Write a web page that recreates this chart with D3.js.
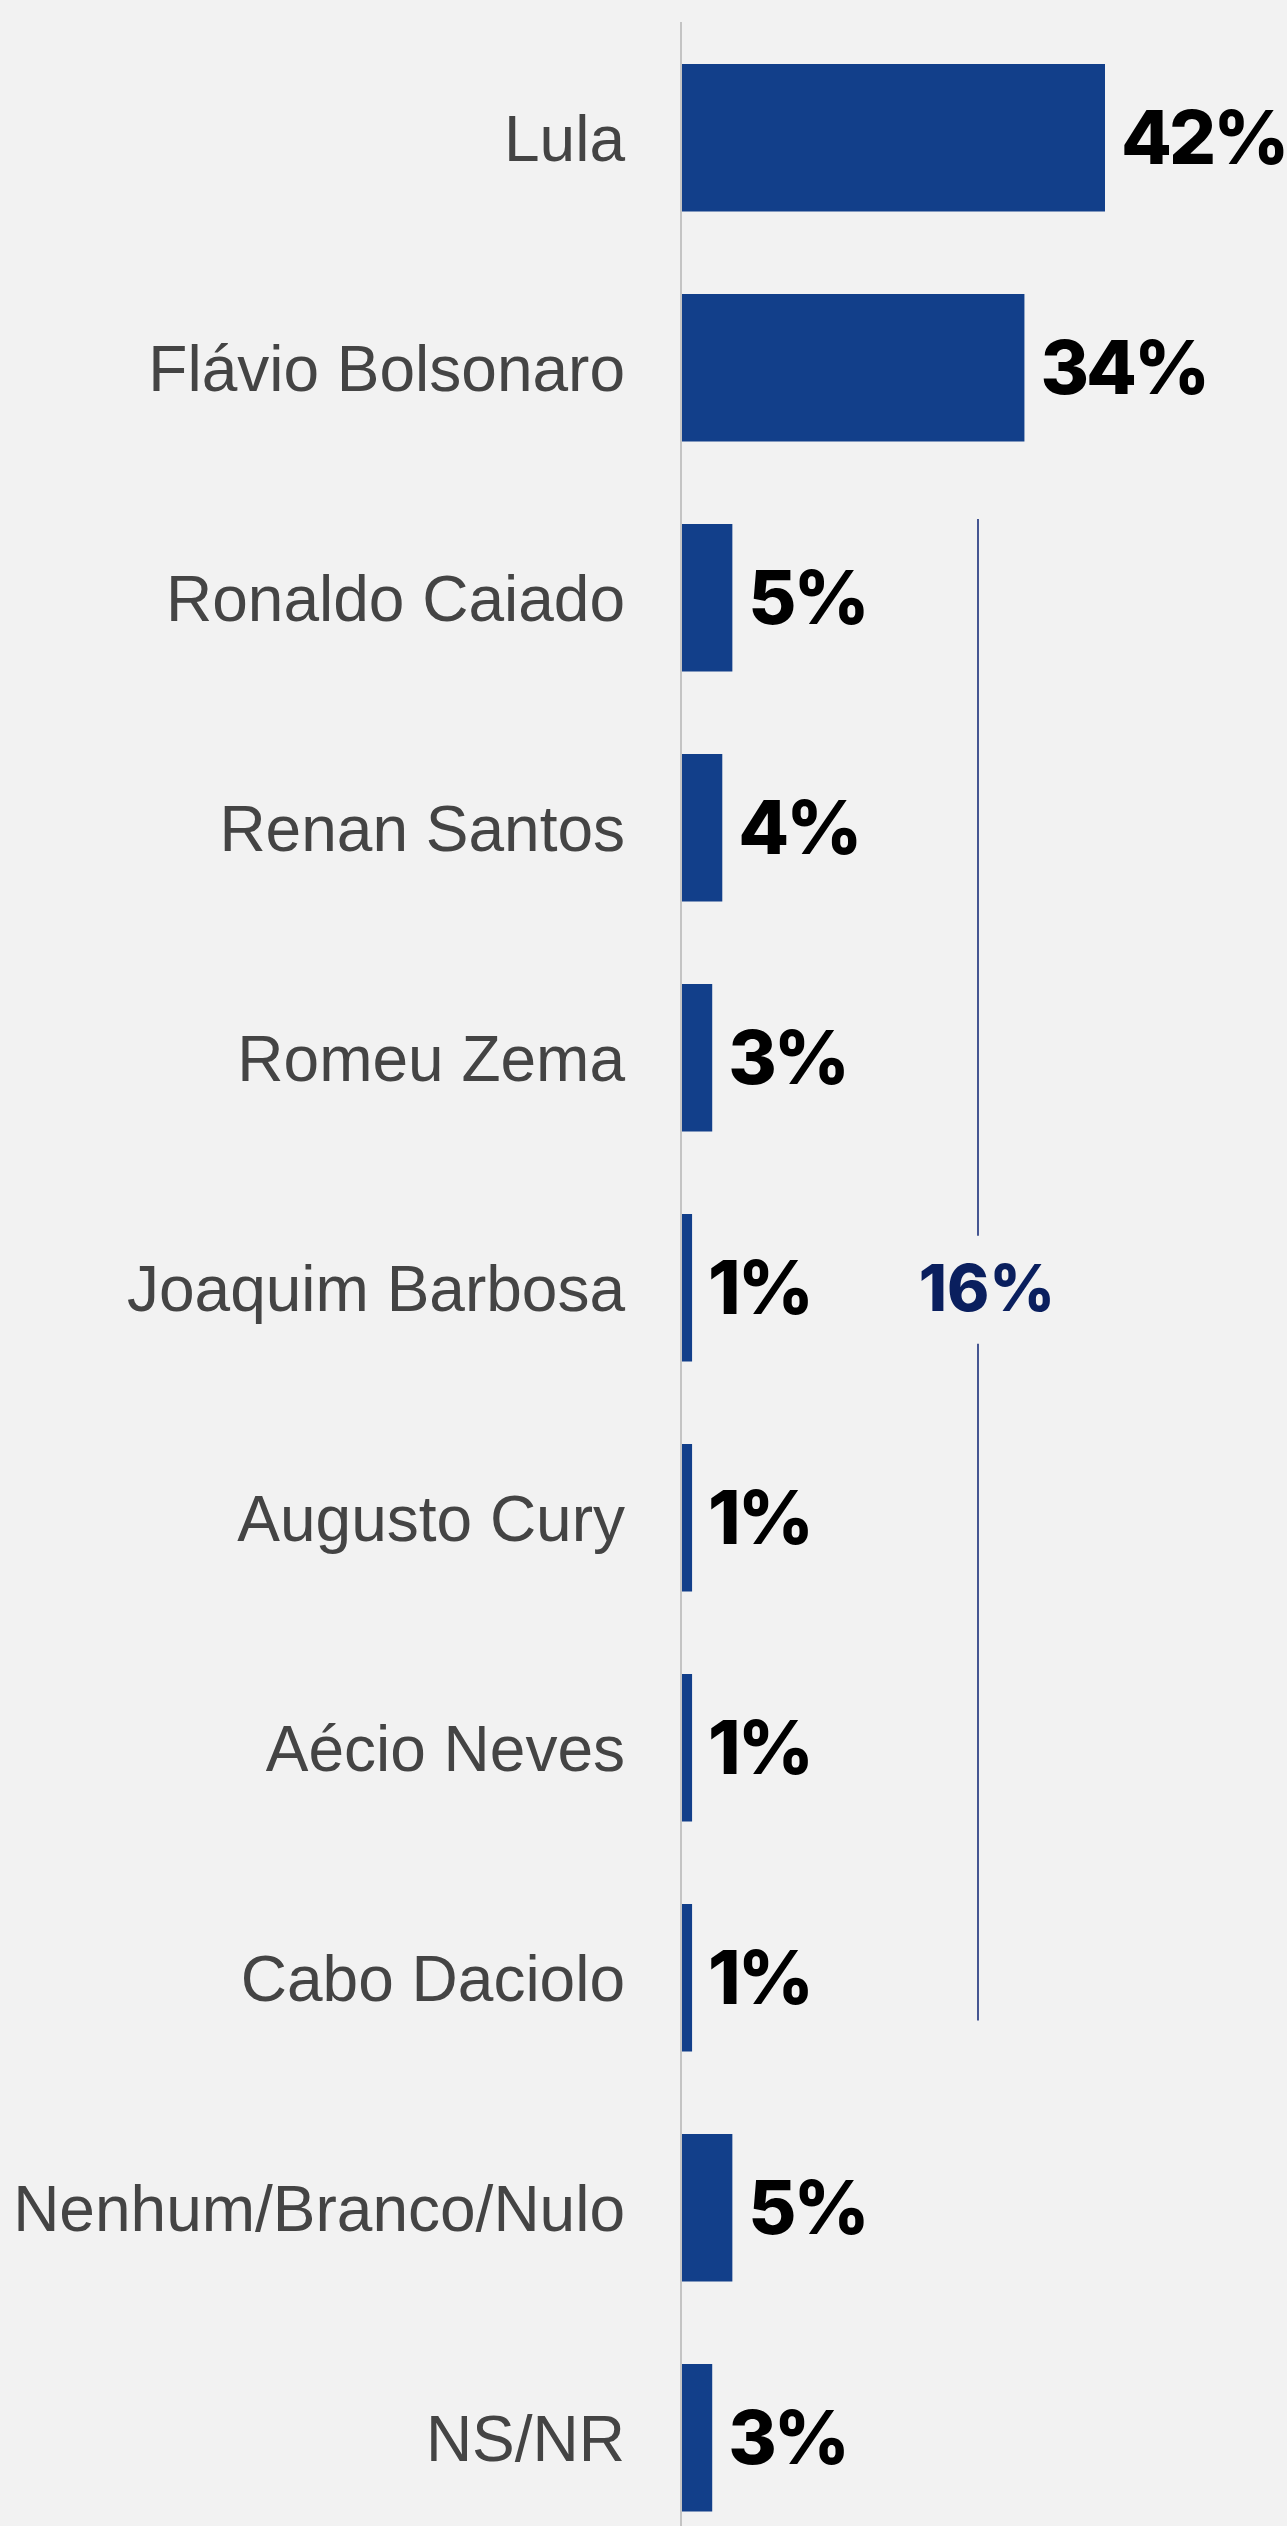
<!doctype html>
<html lang="pt">
<head>
<meta charset="utf-8">
<title>Intenção de voto</title>
<script src="https://cdn.jsdelivr.net/npm/d3@7"></script>
<style>
	html, body { margin: 0; padding: 0; background: #f2f2f2; }
	svg { display: block; }
</style>
</head>
<body>
<div id="chart"></div>
<script>
/* data */
var candidates = ['Lula', 'Flávio Bolsonaro', 'Ronaldo Caiado', 'Renan Santos', 'Romeu Zema',
	'Joaquim Barbosa', 'Augusto Cury', 'Aécio Neves', 'Cabo Daciolo', 'Nenhum/Branco/Nulo', 'NS/NR'];
var values = [42, 34, 5, 4, 3, 1, 1, 1, 1, 5, 3];
var bracketGroup = ['Ronaldo Caiado', 'Renan Santos', 'Romeu Zema', 'Joaquim Barbosa', 'Augusto Cury', 'Aécio Neves', 'Cabo Daciolo'];
var bracketLabel = '16%';

/* view */
var size = { width: 1287, height: 2526 };
var axisX = 681;

var svg = d3.select('#chart')
	.append('svg')
	.attr('width', size.width)
	.attr('height', size.height);

svg.append('rect')
	.attr('width', size.width)
	.attr('height', size.height)
	.attr('fill', '#f2f2f2');

var x = d3.scaleLinear()
	.domain([0, 42])
	.range([axisX + 1, 1105]);

var pad = 82.5 / 230;
var y = d3.scaleBand()
	.domain(candidates)
	.range([22.75, 22.75 + 11 * 230])
	.paddingInner(pad)
	.paddingOuter(pad / 2);

// bars
svg.selectAll('rect.bar')
	.data(values)
	.enter()
	.append('rect')
	.attr('class', 'bar')
	.attr('x', x(0))
	.attr('y', function(d, i){ return y(candidates[i]); })
	.attr('width', function(d){ return x(d) - x(0); })
	.attr('height', y.bandwidth())
	.attr('fill', '#123f8a');

// vertical axis line
svg.append('line')
	.attr('x1', axisX).attr('x2', axisX)
	.attr('y1', 22).attr('y2', size.height)
	.style('stroke', '#c4c4c4')
	.style('stroke-width', 2);

// category labels
svg.selectAll('text.cat')
	.data(candidates)
	.enter()
	.append('text')
	.attr('class', 'cat')
	.attr('x', axisX - 56)
	.attr('y', function(d){ return y(d) + y.bandwidth() / 2; })
	.attr('dy', '0.36em')
	.attr('text-anchor', 'end')
	.style('font-family', '"Liberation Sans", Arial, sans-serif')
	.style('font-size', '64px')
	.style('fill', '#444444')
	.text(function(d){ return d; });

// value labels
svg.selectAll('text.val')
	.data(values)
	.enter()
	.append('text')
	.attr('class', 'val')
	.attr('x', function(d){ return x(d) + 16; })
	.attr('y', function(d, i){ return y(candidates[i]) + y.bandwidth() / 2; })
	.attr('dy', '0.36em')
	.style('font-family', 'Inter, sans-serif')
	.style('font-weight', 800)
	.style('font-size', '74px')
	.style('letter-spacing', '-3px')
	.style('fill', '#000')
	.text(function(d){ return d + '%'; });

// bracket for the smaller candidates
var ys = bracketGroup.map(function(c){ return y(c); });
var bracketTop = d3.min(ys) - 5;
var bracketBottom = d3.max(ys) + y.bandwidth() - 31;
var mid = y('Joaquim Barbosa') + y.bandwidth() / 2;
var bx = 978;

svg.append('line')
	.attr('x1', bx).attr('x2', bx)
	.attr('y1', bracketTop).attr('y2', mid - 52)
	.style('stroke', '#1a2f7a')
	.style('stroke-width', 1.6);
svg.append('line')
	.attr('x1', bx).attr('x2', bx)
	.attr('y1', mid + 56).attr('y2', bracketBottom)
	.style('stroke', '#1a2f7a')
	.style('stroke-width', 1.6);

svg.append('text')
	.attr('x', bx + 9)
	.attr('y', mid)
	.attr('dy', '0.36em')
	.attr('text-anchor', 'middle')
	.style('font-family', 'Inter, sans-serif')
	.style('font-weight', 800)
	.style('font-size', '64px')
	.style('fill', '#0a1f5e')
	.text(bracketLabel);
</script>
</body>
</html>
